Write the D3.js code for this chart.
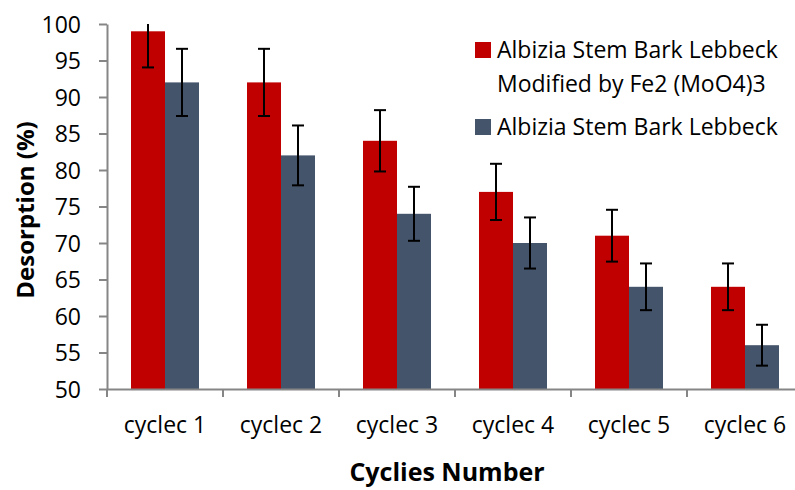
<!DOCTYPE html>
<html>
<head>
<meta charset="utf-8">
<script src="https://cdn.jsdelivr.net/npm/d3@7"></script>
<style>
  body { margin: 0; background: #fff; }
  svg { display: block; font-family: "Open Sans", sans-serif; }
  .axis path, .axis line { stroke: #868686; stroke-width: 2; }
  .axis text { fill: #000; font-size: 23px; font-family: "Open Sans", sans-serif; }
</style>
</head>
<body>
<svg width="795" height="490"></svg>
<script>
var categories = ["cyclec 1", "cyclec 2", "cyclec 3", "cyclec 4", "cyclec 5", "cyclec 6"];
var seriesNames = ["Albizia Stem Bark Lebbeck Modified by Fe2 (MoO4)3", "Albizia Stem Bark Lebbeck"];
var modifiedValues = [99, 92, 84, 77, 71, 64];
var modifiedErrors = [4.95, 4.6, 4.2, 3.85, 3.55, 3.2];
var plainValues = [92, 82, 74, 70, 64, 56];
var plainErrors = [4.6, 4.1, 3.7, 3.5, 3.2, 2.8];
var yTicks = [50, 55, 60, 65, 70, 75, 80, 85, 90, 95, 100];
var colors = ["#C00000", "#44546A"];

var svg = d3.select("svg"),
    margin = {top: 24, right: -8, bottom: 101, left: 107},
    width = +svg.attr("width") - margin.left - margin.right,
    height = +svg.attr("height") - margin.top - margin.bottom;

var data = categories.map(function(c, i) {
  return {
    cat: c,
    vals: [
      {s: 0, v: modifiedValues[i], e: modifiedErrors[i]},
      {s: 1, v: plainValues[i], e: plainErrors[i]}
    ]
  };
});

var x0 = d3.scaleBand().domain(categories).range([0, width]).padding(0);
var x1 = d3.scaleBand().domain([0, 1]).range([0, x0.bandwidth()])
           .paddingInner(0).paddingOuter(0.706);
var y = d3.scaleLinear().domain([50, 100]).range([height, 0]);

var g = svg.append("g")
    .attr("transform", "translate(" + margin.left + "," + margin.top + ")");

// bars
var groups = g.selectAll(".grp")
  .data(data)
  .enter().append("g")
    .attr("class", "grp")
    .attr("transform", function(d) { return "translate(" + x0(d.cat) + ",0)"; });

groups.selectAll("rect")
  .data(function(d) { return d.vals; })
  .enter().append("rect")
    .attr("x", function(d) { return x1(d.s); })
    .attr("y", function(d) { return y(d.v); })
    .attr("width", x1.bandwidth())
    .attr("height", function(d) { return height - y(d.v); })
    .attr("fill", function(d) { return colors[d.s]; });

// axes
g.append("g")
    .attr("class", "axis")
    .call(d3.axisLeft(y).tickValues(yTicks).tickSize(8).tickPadding(18).tickSizeOuter(0))
    .selectAll("text").attr("dy", "0.36em");

var xAxis = g.append("g")
    .attr("class", "axis")
    .attr("transform", "translate(0," + height + ")")
    .call(d3.axisBottom(x0).tickSize(0).tickSizeOuter(0).tickPadding(0));
xAxis.selectAll(".tick line").remove();
xAxis.selectAll(".tick text").attr("y", 0).attr("dy", "44px");
xAxis.selectAll(".sep")
  .data(d3.range(categories.length + 1))
  .enter().append("line")
    .attr("x1", function(i) { return i * x0.step(); })
    .attr("x2", function(i) { return i * x0.step(); })
    .attr("y1", 0).attr("y2", 8)
    .attr("stroke", "#868686").attr("stroke-width", 2);

// error bars
var err = groups.selectAll(".err")
  .data(function(d) { return d.vals; })
  .enter().append("g")
    .attr("class", "err")
    .attr("transform", function(d) { return "translate(" + (x1(d.s) + x1.bandwidth() / 2) + ",0)"; });

err.append("line")
    .attr("y1", function(d) { return y(Math.min(100, d.v + d.e)); })
    .attr("y2", function(d) { return y(d.v - d.e); })
    .attr("stroke", "#000").attr("stroke-width", 2);
err.filter(function(d) { return d.v + d.e <= 100; }).append("line")
    .attr("x1", -6).attr("x2", 6)
    .attr("y1", function(d) { return y(d.v + d.e); })
    .attr("y2", function(d) { return y(d.v + d.e); })
    .attr("stroke", "#000").attr("stroke-width", 2);
err.append("line")
    .attr("x1", -6).attr("x2", 6)
    .attr("y1", function(d) { return y(d.v - d.e); })
    .attr("y2", function(d) { return y(d.v - d.e); })
    .attr("stroke", "#000").attr("stroke-width", 2);

// titles
svg.append("text")
    .attr("transform", "translate(34,210) rotate(-90)")
    .attr("text-anchor", "middle")
    .style("font-size", "24px").style("font-weight", "bold")
    .text("Desorption (%)");

svg.append("text")
    .attr("x", 447).attr("y", 481)
    .attr("text-anchor", "middle")
    .style("font-size", "25px").style("font-weight", "bold")
    .text("Cyclies Number");

// legend
var legend = svg.append("g");
var legendLines = [["Albizia Stem Bark Lebbeck", "Modified by Fe2 (MoO4)3"], ["Albizia Stem Bark Lebbeck"]];
var legendY = [58, 135];
legendLines.forEach(function(lines, i) {
  legend.append("rect")
      .attr("x", 475).attr("y", legendY[i] - 16)
      .attr("width", 16).attr("height", 16)
      .attr("fill", colors[i]);
  legend.append("text")
      .attr("x", 497).attr("y", legendY[i])
      .style("font-size", "23px")
      .selectAll("tspan")
      .data(lines)
      .enter().append("tspan")
        .attr("x", 497)
        .attr("dy", function(d, j) { return j === 0 ? 0 : 34; })
        .text(function(d) { return d; });
});
</script>
</body>
</html>
